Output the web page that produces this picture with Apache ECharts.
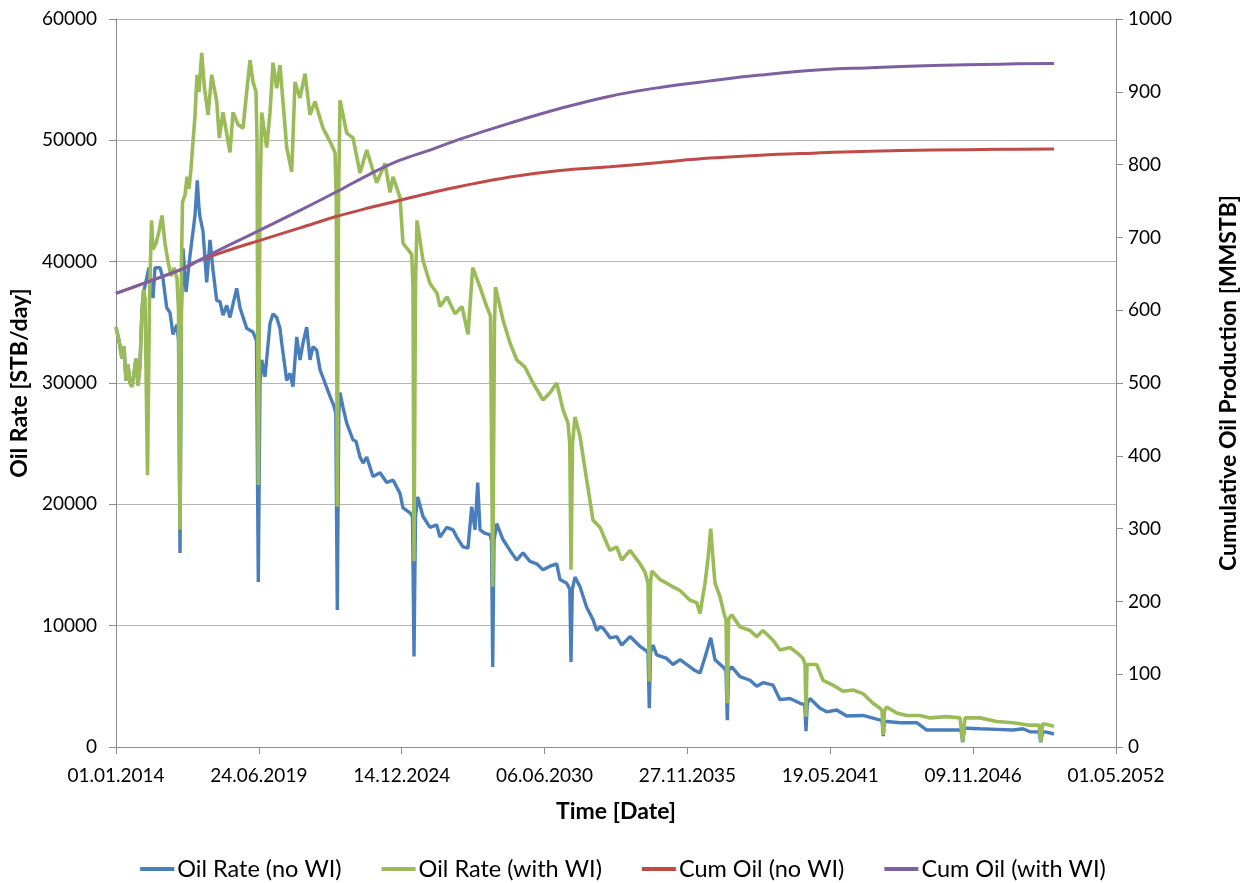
<!DOCTYPE html>
<html>
<head>
<meta charset="utf-8">
<script src="https://cdn.jsdelivr.net/npm/echarts@6/dist/echarts.min.js"></script>
<style>html,body{margin:0;padding:0;background:#fff;}#c{width:1246px;height:883px;}</style>
</head>
<body>
<div id="c"></div>
<script>
// Time is in days since 01.01.2014
const seriesNames = ['Oil Rate (no WI)', 'Oil Rate (with WI)', 'Cum Oil (no WI)', 'Cum Oil (with WI)'];

const blueDays = [0,42,84,112,140,168,196,224,252,280,308,336,364,385,406,462,490,518,546,616,658,710,756,798,854,875,896,917,938,980,1036,1106,1138,1162,1176,1218,1270,1316,1358,1410,1456,1498,1550,1596,1638,1690,1736,1830,1918,1967,1992,2016,2040,2086,2156,2198,2250,2296,2320,2390,2436,2478,2530,2576,2618,2670,2716,2758,2810,2856,2926,2996,3052,3077,3098,3119,3136,3178,3230,3318,3360,3416,3458,3510,3598,3696,3790,3878,3976,4018,4116,4151,4172,4193,4224,4298,4396,4490,4536,4630,4718,4770,4858,4928,4980,5026,5064,5096,5166,5236,5257,5274,5292,5330,5418,5516,5610,5698,5796,5890,5978,6076,6170,6216,6310,6353,6370,6388,6426,6496,6590,6678,6730,6776,6818,6870,6916,7010,7080,7196,7336,7406,7448,7466,7483,7518,7570,7710,7798,7896,8036,8106,8176,8246,8326,8386,8498,8540,8558,8576,8620,8736,8876,8970,9058,9198,9296,9436,9576,9642,9660,9678,9716,9856,9950,10090,10230,10458,10650,10724,10742,10759,10790,10976,11210,11350,11630,11830,11854,11879,11910,12096,12330,12558,12698,12796,12922,12946,12971,13030,13132];
const blueRate = [34600,33500,32000,33000,30200,31500,30000,29700,30800,32000,29800,31500,36000,37500,38000,39500,38000,37000,39500,39500,38600,36200,35800,34000,34800,33500,16000,36000,41100,37500,40500,43800,46700,44400,43700,42500,38300,41800,39300,36800,36700,35600,36400,35400,36500,37800,36200,34500,34200,33500,13600,30000,31900,30500,34900,35700,35400,34500,33300,30200,30800,29700,33800,31900,33300,34600,31900,33000,32700,31100,30000,28900,28100,27500,11300,27500,29200,28000,26700,25300,25200,23900,23400,23900,22300,22600,21800,22000,20900,19700,19300,19000,7450,19000,20600,19000,18100,18300,17300,18100,17900,17300,16500,16400,19800,17900,21800,17900,17600,17500,17000,6600,17000,18400,17100,16200,15400,16000,15300,15100,14600,14900,15100,13800,13500,13000,7000,13000,14000,13200,11500,10500,9600,9900,9800,9400,9000,9100,8400,9100,8300,8000,7800,3200,7800,8400,7600,7300,6800,7200,6600,6300,6100,7400,9000,7200,6600,6300,2200,6300,6600,5800,5500,5000,5300,5100,3900,4000,3600,3500,1300,3600,4000,3200,2900,3050,2550,2600,2300,2200,900,2100,2100,2000,2000,1400,1400,1400,400,1500,1550,1500,1450,1400,1500,1260,1250,400,1250,1230,1070];

const greenDays = [0,42,84,112,140,168,196,224,252,280,308,336,364,385,406,441,469,497,518,560,602,644,686,728,770,812,854,875,896,917,931,966,994,1022,1050,1078,1106,1134,1162,1200,1239,1288,1340,1410,1446,1498,1596,1638,1708,1778,1830,1876,1918,1960,1974,1992,2016,2040,2110,2156,2198,2250,2296,2390,2460,2506,2576,2646,2716,2786,2898,2996,3066,3084,3098,3115,3136,3230,3318,3416,3510,3650,3766,3836,3878,3976,4018,4088,4140,4158,4172,4193,4214,4298,4396,4494,4536,4634,4746,4844,4928,4994,5096,5190,5243,5274,5299,5313,5418,5516,5610,5726,5838,5978,6076,6170,6258,6328,6353,6370,6391,6426,6496,6590,6678,6776,6870,6916,7010,7080,7196,7336,7406,7448,7466,7483,7500,7616,7710,7798,7896,8036,8130,8176,8246,8288,8326,8358,8386,8456,8512,8540,8558,8576,8620,8736,8876,8970,9058,9198,9296,9436,9548,9618,9646,9660,9674,9688,9810,9898,10038,10178,10318,10458,10598,10696,10724,10742,10759,10790,10930,11070,11256,11396,11630,11816,11854,11886,12096,12330,12558,12796,12922,12946,12971,13006,13132];
const greenRate = [34600,33500,32000,33000,30200,31500,30000,29700,30800,32000,29800,31500,36000,37700,37000,22400,37000,43400,41000,41500,42500,43800,41500,40000,38800,39500,38600,36000,17900,40000,44900,45500,47000,46000,47700,49900,52000,55400,54000,57200,54300,52100,55400,53200,50200,52300,49000,52300,51300,51000,54000,56600,54800,54000,50000,21600,45000,52300,49400,52300,56400,54300,56200,49400,47400,54800,53500,55500,52100,53200,51000,49900,49000,45000,19800,45000,53300,50600,50200,47300,49200,46500,48100,45700,47000,45300,41500,41000,40600,38000,15300,38000,43400,40100,38200,37400,36300,37100,35700,36300,34000,39500,37900,36300,35500,13200,35000,37900,35200,33300,31900,31300,30000,28600,29200,30000,27800,26700,25000,14600,25000,27200,25600,22000,18700,18100,16800,16200,16500,15400,16200,15100,14400,13500,5400,13500,14500,13800,13500,13200,12900,12100,11900,11000,13500,15500,18000,15500,13500,12400,11000,10500,3600,10500,10900,9900,9600,9100,9600,8800,8000,8200,7700,7300,6800,2500,6800,6900,6800,5500,5100,4600,4700,4400,3600,3200,3000,1000,3000,3300,2800,2600,2600,2400,2500,2400,440,2400,2400,2100,2000,1800,1800,440,1900,1900,1700];

const cumDays = [0,476,938,1134,1596,2016,2576,3094,3556,3976,4396,4816,5516,6216,6916,7616,8316,9016,9814,10556,11438,12376,13132];
const cumNoWI = [623,640,657,667,683,696,713,729,741,751,761,770,783,792,797,803,809,813,816,818.5,820,821,821.5];
const cumWithWI = [623,640,657,667,690,710,737,763,787,806,820,835,857,877,894,906,915,923,930,933,936,938,939];

const leftTicks = {min: 0, max: 60000, interval: 10000};
const rightTicks = {min: 0, max: 1000, interval: 100};
const timeTicks = {min: 0, max: 14000, interval: 2000};

const pair = (xs, ys) => xs.map((x, i) => [x, ys[i]]);
const pad = n => (n < 10 ? '0' : '') + n;
const fmtDate = d => {
  const dt = new Date(Date.UTC(2014, 0, 1) + d * 86400000);
  return pad(dt.getUTCDate()) + '.' + pad(dt.getUTCMonth() + 1) + '.' + dt.getUTCFullYear();
};
const plain = v => String(v);

const FONT = 'Lato';
const axisGray = '#8c8c8c';
const labelStyle = {color: '#000', fontFamily: FONT, fontSize: 19};
const nameStyle = {color: '#000', fontFamily: FONT, fontSize: 23, fontWeight: 'bold'};

const chart = echarts.init(document.getElementById('c'), null, {renderer: 'canvas'});
chart.setOption({
  animation: false,
  backgroundColor: '#fff',
  grid: {left: 116, right: 130, top: 19, bottom: 136, containLabel: false, outerBoundsMode: 'none'},
  legend: {
    top: 852, left: 'center', itemWidth: 34, itemHeight: 4, itemGap: 40, icon: 'rect',
    textStyle: {color: '#000', fontFamily: FONT, fontSize: 23.5, padding: [0, 0, 0, -2]},
    data: seriesNames
  },
  xAxis: {
    type: 'value', min: timeTicks.min, max: timeTicks.max, interval: timeTicks.interval,
    name: 'Time [Date]', nameLocation: 'middle', nameGap: 53, nameTextStyle: nameStyle,
    axisLine: {show: true, lineStyle: {color: axisGray, width: 1}},
    axisTick: {show: true, length: 7, lineStyle: {color: axisGray}},
    splitLine: {show: false},
    axisLabel: Object.assign({margin: 19, formatter: fmtDate}, labelStyle)
  },
  yAxis: [{
    type: 'value', min: leftTicks.min, max: leftTicks.max, interval: leftTicks.interval,
    name: 'Oil Rate [STB/day]', nameLocation: 'middle', nameGap: 79, nameRotate: 90, nameTextStyle: nameStyle,
    axisLine: {show: true, lineStyle: {color: axisGray, width: 1}},
    axisTick: {show: true, length: 7, lineStyle: {color: axisGray}},
    splitLine: {show: true, lineStyle: {color: '#b4b4b4', width: 1}},
    axisLabel: Object.assign({margin: 19, formatter: plain}, labelStyle)
  }, {
    type: 'value', position: 'right', min: rightTicks.min, max: rightTicks.max, interval: rightTicks.interval,
    name: 'Cumulative Oil Production [MMSTB]', nameLocation: 'middle', nameGap: 101, nameRotate: 90, nameTextStyle: nameStyle,
    axisLine: {show: true, lineStyle: {color: axisGray, width: 1}},
    axisTick: {show: true, length: 7, lineStyle: {color: axisGray}},
    splitLine: {show: false},
    axisLabel: Object.assign({margin: 12, formatter: plain}, labelStyle)
  }],
  series: [
    {name: seriesNames[0], type: 'line', yAxisIndex: 0, showSymbol: false, symbol: 'none',
     lineStyle: {color: '#4a7ebb', width: 3.4}, itemStyle: {color: '#4a7ebb'}, data: pair(blueDays, blueRate)},
    {name: seriesNames[1], type: 'line', yAxisIndex: 0, showSymbol: false, symbol: 'none',
     lineStyle: {color: '#9bbb59', width: 3.6}, itemStyle: {color: '#9bbb59'}, data: pair(greenDays, greenRate)},
    {name: seriesNames[2], type: 'line', yAxisIndex: 1, showSymbol: false, symbol: 'none', smooth: 0.4,
     lineStyle: {color: '#be4b48', width: 3}, itemStyle: {color: '#be4b48'}, data: pair(cumDays, cumNoWI)},
    {name: seriesNames[3], type: 'line', yAxisIndex: 1, showSymbol: false, symbol: 'none', smooth: 0.4,
     lineStyle: {color: '#7d60a0', width: 3}, itemStyle: {color: '#7d60a0'}, data: pair(cumDays, cumWithWI)}
  ]
});
</script>
</body>
</html>
